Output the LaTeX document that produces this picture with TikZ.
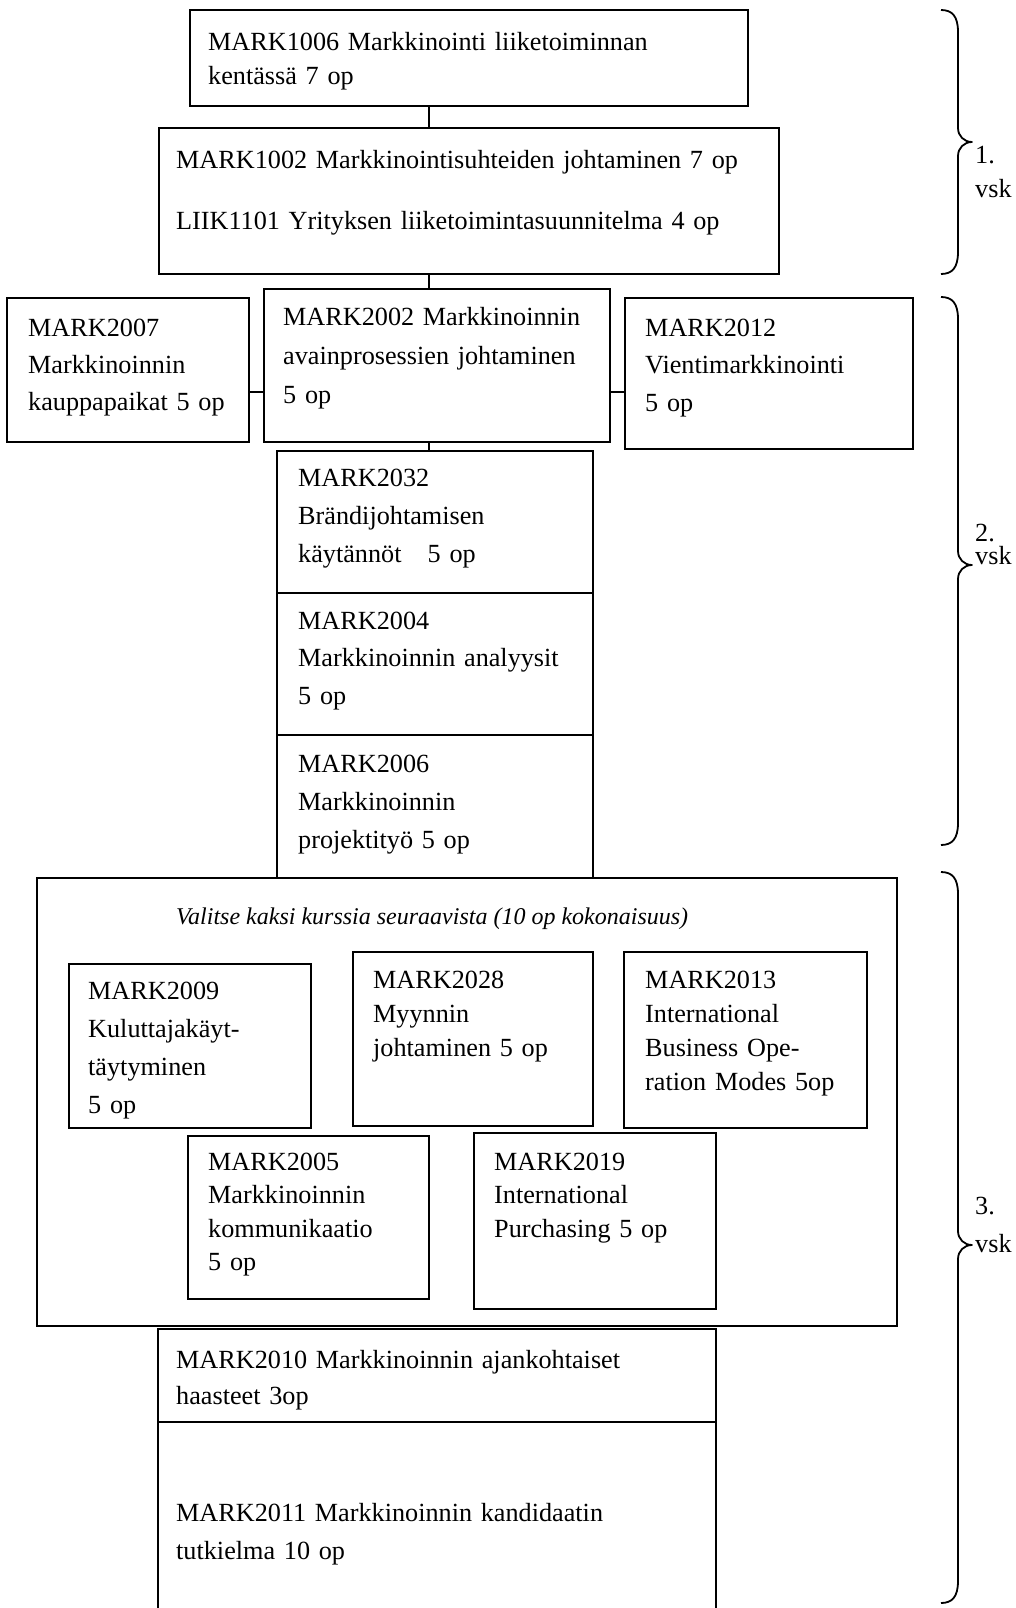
\documentclass[tikz,border=0pt]{standalone}
\usepackage{fontspec}
\setmainfont{Liberation Serif}
\tikzset{
  crs/.style={draw, line width=1.8pt, rectangle, inner sep=0pt, outer sep=0pt},
  txt/.style={font=\fontsize{26.2}{#1}\selectfont, align=left, text width=700pt, inner sep=0pt, anchor=base west},
  conn/.style={line width=1.8pt},
  yrbrace/.style={line width=1.8pt, line join=round},
  head/.style={font=\fontsize{24}{30}\selectfont\itshape, inner sep=0pt, anchor=base west}
}
\newcommand\crsbox[5]{\node[crs, anchor=north west, minimum width={#4-#2}, minimum height={#5-#3}] (#1) at (#2,#3) {};}
\newcommand\yearbrace[3]{%
  \draw[yrbrace] (941,#1) .. controls (952,#1) and (958,#1+6) .. (958,#1+22)
    -- (958,#2-14) .. controls (958,#2-6) and (964,#2) .. (972,#2)
    .. controls (964,#2) and (958,#2+6) .. (958,#2+14)
    -- (958,#3-22) .. controls (958,#3-6) and (952,#3) .. (941,#3);}
\begin{document}
\begin{tikzpicture}[x=1pt,y=-1pt]
\useasboundingbox (0,0) rectangle (1016,1608);
% boxes
\crsbox{b1}{190}{10}{748}{106}
\crsbox{b2}{159}{128}{779}{274}
\crsbox{m2007}{7}{298}{249}{442}
\crsbox{m2002}{264}{289}{610}{442}
\crsbox{m2012}{625}{298}{913}{449}
\crsbox{m2032}{277}{451}{593}{593}
\crsbox{m2004}{277}{593}{593}{735}
\crsbox{m2006}{277}{735}{593}{878}
\crsbox{elective}{37}{878}{897}{1326}
\crsbox{m2009}{69}{964}{311}{1128}
\crsbox{m2028}{353}{952}{593}{1126}
\crsbox{m2013}{624}{952}{867}{1128}
\crsbox{m2005}{188}{1136}{429}{1299}
\crsbox{m2019}{474}{1133}{716}{1309}
\crsbox{m2010}{158}{1329}{716}{1422}
\crsbox{m2011}{158}{1422}{716}{1640}
% connectors
\coordinate (spine) at (429,0);
\coordinate (hc) at (0,392);
\draw[conn] (b1.south -| spine) -- (b2.north -| spine);
\draw[conn] (b2.south -| spine) -- (m2002.north -| spine);
\draw[conn] (m2002.south -| spine) -- (m2032.north -| spine);
\draw[conn] (m2007.east |- hc) -- (m2002.west |- hc);
\draw[conn] (m2002.east |- hc) -- (m2012.west |- hc);
% texts
\node[txt=34] (b1t) at (208,51) {MARK1006 Markkinointi liiketoiminnan\\kentässä 7 op};
\node[txt=37] (b2t) at (176,169) {MARK1002 Markkinointisuhteiden johtaminen 7 op\\[24pt]LIIK1101 Yrityksen liiketoimintasuunnitelma 4 op};
\node[txt=37] (m2007t) at (28,336) {MARK2007\\Markkinoinnin\\kauppapaikat 5 op};
\node[txt=39] (m2002t) at (283,325) {MARK2002 Markkinoinnin\\avainprosessien johtaminen\\5 op};
\node[txt=37.5] (m2012t) at (645,336) {MARK2012\\Vientimarkkinointi\\5 op};
\node[txt=38] (m2032t) at (298,486) {MARK2032\\Brändijohtamisen\\käytännöt\ \ \ 5 op};
\node[txt=37.5] (m2004t) at (298,629) {MARK2004\\Markkinoinnin analyysit\\5 op};
\node[txt=38] (m2006t) at (298,772) {MARK2006\\Markkinoinnin\\projektityö 5 op};
\node[head] (headt) at (176,924) {Valitse kaksi kurssia seuraavista (10 op kokonaisuus)};
\node[txt=38] (m2009t) at (88,999) {MARK2009\\Kuluttajakäyt-\\täytyminen\\5 op};
\node[txt=34] (m2028t) at (373,988) {MARK2028\\Myynnin\\johtaminen 5 op};
\node[txt=34] (m2013t) at (645,988) {MARK2013\\International\\Business Ope-\\ration Modes 5op};
\node[txt=33.5] (m2005t) at (208,1170) {MARK2005\\Markkinoinnin\\kommunikaatio\\5 op};
\node[txt=33.5] (m2019t) at (494,1170) {MARK2019\\International\\Purchasing 5 op};
\node[txt=36] (m2010t) at (176,1368) {MARK2010 Markkinoinnin ajankohtaiset\\haasteet 3op};
\node[txt=38] (m2011t) at (176,1521) {MARK2011 Markkinoinnin kandidaatin\\tutkielma 10 op};
% year braces
\yearbrace{10}{142}{274}
\yearbrace{297}{565}{845}
\yearbrace{872}{1245}{1603}
\node[txt=34] (y1t) at (975,164) {1.\\vsk};
\node[txt=23] (y2t) at (975,541) {2.\\vsk};
\node[txt=38] (y3t) at (975,1214) {3.\\vsk};
\end{tikzpicture}
\end{document}
